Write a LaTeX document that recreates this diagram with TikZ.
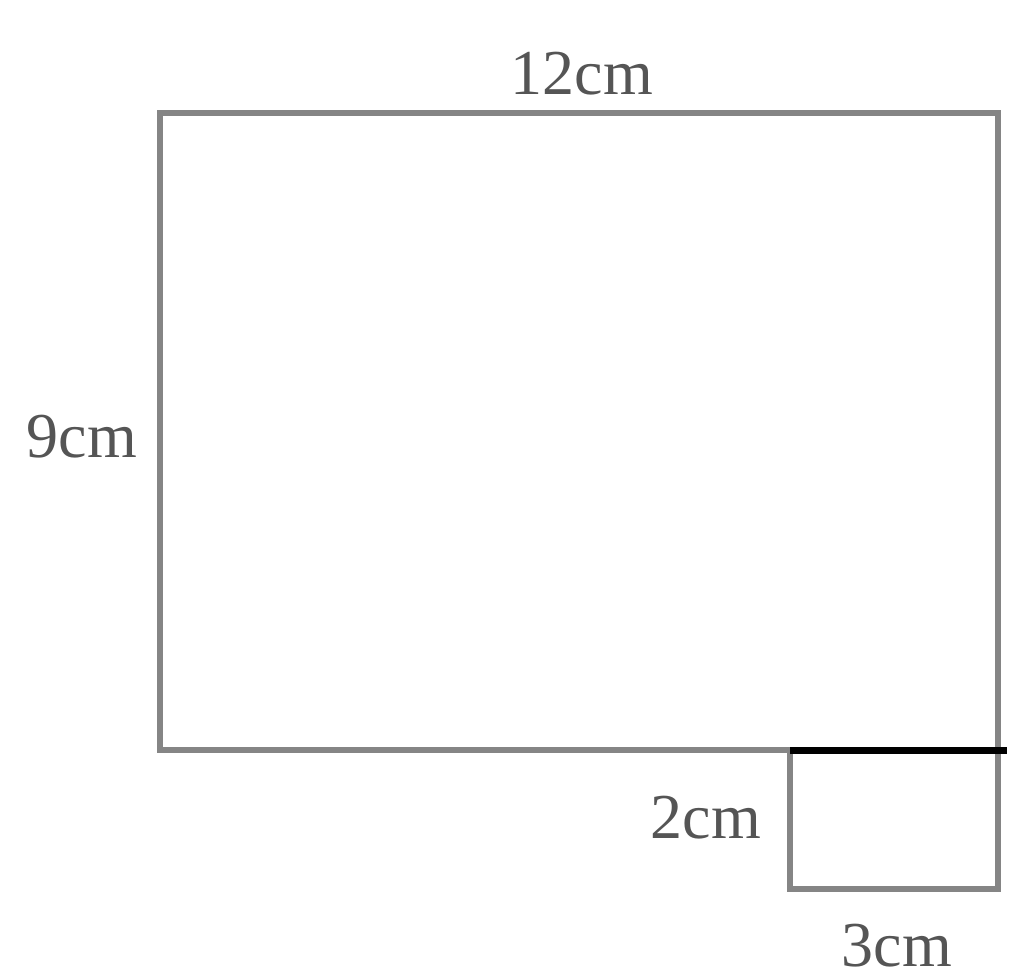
\documentclass[tikz,border=0pt]{standalone}
\usepackage{fontspec}
\setmainfont{Liberation Serif}
\definecolor{edgegray}{HTML}{858585}
\definecolor{textgray}{HTML}{555555}
\begin{document}
\begin{tikzpicture}[x=0.5pt,y=-0.5pt,
  edge/.style={draw=edgegray,line width=3pt,line join=miter},
  blackseg/.style={draw=black,line width=3.5pt},
  lbl/.style={text=textgray,font=\fontsize{32}{36}\selectfont,inner sep=0pt}]
\useasboundingbox (0,0) rectangle (1024,980);
\coordinate (TL) at (160,113);
\coordinate (TR) at (998,113);
\coordinate (BL) at (160,750);
\coordinate (BR) at (998,750);
\coordinate (SL) at (790,750);
\coordinate (SBL) at (790,889);
\coordinate (SBR) at (998,889);
\coordinate (ME) at (1007,750);
\draw[edge] (SL) -- (BL) -- (TL) -- (TR) -- (BR) -- (SBR) -- (SBL) -- (SL);
\draw[blackseg] (SL) -- (ME);
\node[lbl] (top) at (582,74) {12cm};
\node[lbl] (left) at (82,437) {9cm};
\node[lbl] (mid) at (706,818) {2cm};
\node[lbl] (bot) at (897,946) {3cm};
\end{tikzpicture}
\end{document}
